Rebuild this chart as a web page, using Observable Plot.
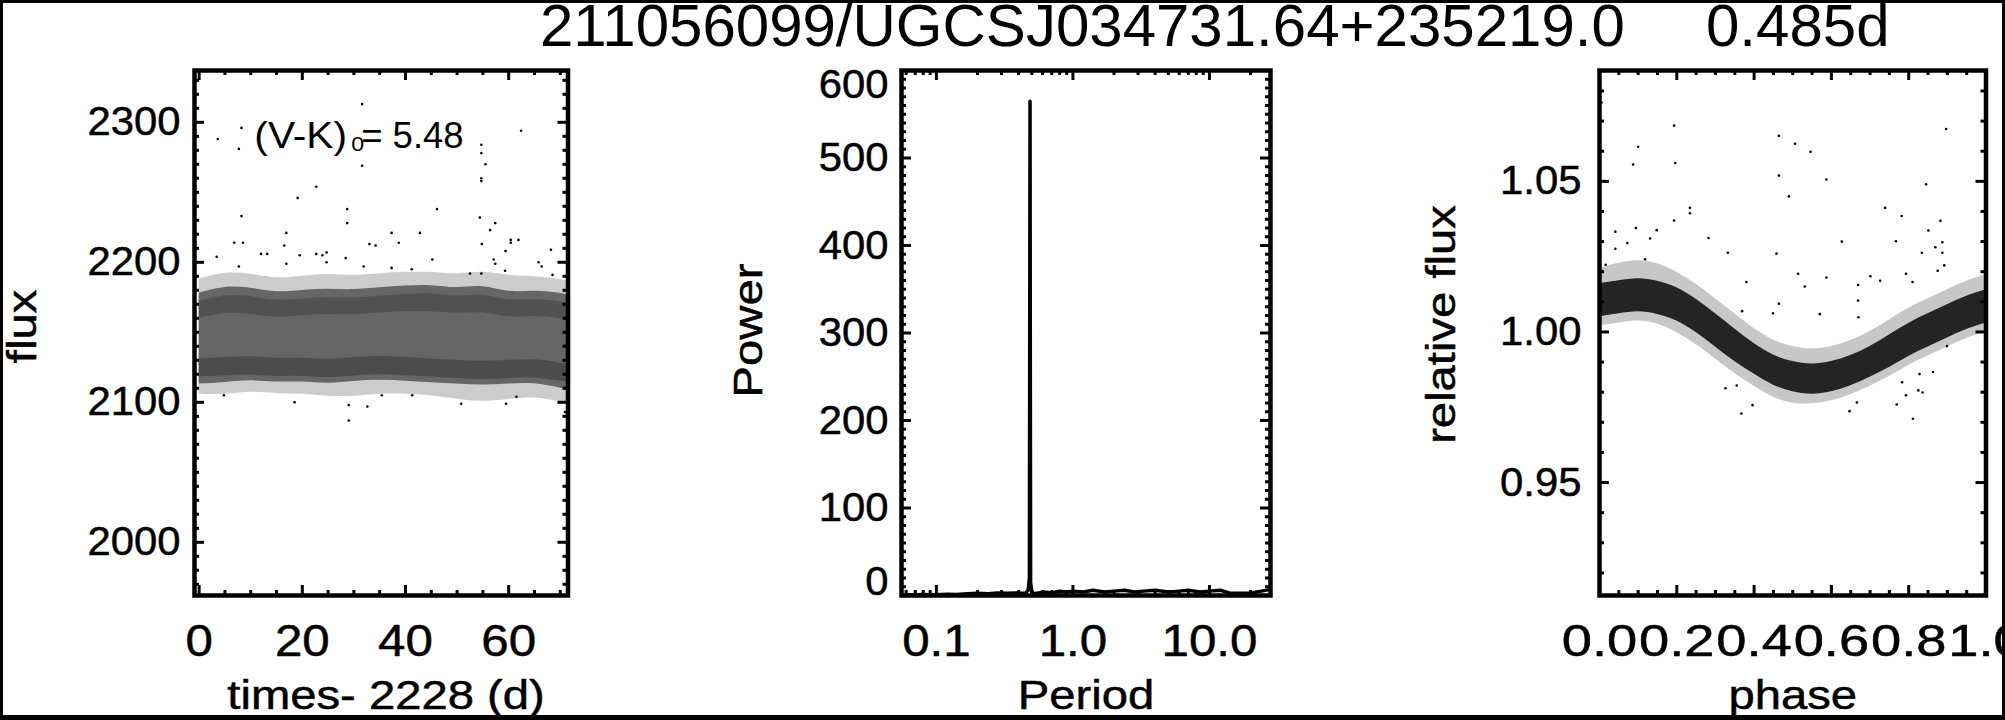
<!DOCTYPE html>
<html><head><meta charset="utf-8">
<script src="https://cdn.jsdelivr.net/npm/d3@7"></script>
<script src="https://cdn.jsdelivr.net/npm/@observablehq/plot@0.6"></script>
<style>
html,body{margin:0;padding:0;background:#fff;}
#wrap{position:relative;width:2005px;height:720px;overflow:hidden;background:#fff;font-family:"Liberation Sans",Arial,sans-serif;}
#border{position:absolute;left:0;top:0;right:0;bottom:0;box-sizing:border-box;border-style:solid;border-color:#000;border-width:3px 3px 5px 3px;pointer-events:none;}
.panel{position:absolute;top:0;}
.ttl{position:absolute;top:0px;font-size:60px;line-height:52px;white-space:pre;color:#000;}
</style></head><body>
<div id="wrap">
  <div class="ttl" id="t1" style="left:540px">211056099/UGCSJ034731.64+235219.0</div>
  <div class="ttl" id="t2" style="left:1706px">0.485d</div>
  <div class="panel" id="p1" style="left:0px"></div>
  <div class="panel" id="p2" style="left:640px"></div>
  <div class="panel" id="p3" style="left:1380px"></div>
  <div id="border"></div>
</div>
<script>
// ---------------- Panel 1: light curve (flux vs time) ----------------
const lcTime   = [0, 5, 10, 15, 20, 25, 30, 35, 40, 45, 50, 55, 60, 65, 70, 72];
const lcCoreLo = [2113, 2114, 2116, 2114, 2115, 2113, 2115, 2116, 2115, 2114, 2113, 2112, 2113, 2114, 2110, 2109];
const lcCoreHi = [2178, 2183, 2182, 2178, 2180, 2181, 2180, 2182, 2183, 2184, 2181, 2184, 2178, 2180, 2178, 2176];
const lcHaloLo = [2106, 2105, 2108, 2106, 2106, 2104, 2104, 2106, 2106, 2105, 2102, 2100, 2102, 2104, 2100, 2100];
const lcHaloHi = [2188, 2193, 2192, 2188, 2190, 2192, 2190, 2192, 2193, 2193, 2191, 2194, 2190, 2190, 2188, 2186];
const lcLowStripeLo  = [2118, 2119, 2120, 2118, 2119, 2117, 2119, 2120, 2119, 2118, 2117, 2116, 2117, 2118, 2115, 2114];
const lcLowStripeHi  = [2131, 2132, 2133, 2131, 2132, 2130, 2132, 2133, 2132, 2131, 2130, 2129, 2130, 2131, 2128, 2127];
const lcHighStripeLo = [2160, 2164, 2163, 2160, 2162, 2163, 2162, 2164, 2165, 2165, 2163, 2165, 2160, 2162, 2160, 2158];
const lcHighStripeHi = [2172, 2177, 2176, 2172, 2174, 2175, 2174, 2176, 2177, 2178, 2175, 2178, 2172, 2174, 2172, 2170];
const lcOutT = [3.6, 8.2, 7.7, 31.6, 31.6, 62.4, 54.7, 54.7, 55.5, 54.7, 54.7, 22.7, 19.1, 8.2, 46.1, 28.7, 28.7, 54.4, 57.4, 56.4, 16.9, 37.3, 42.8, 6.8, 8.5, 16.5, 33.0, 34.2, 38.7, 54.8, 60.4, 60.4, 61.9, 59.4, 3.4, 7.7, 12.0, 13.2, 16.9, 19.5, 22.7, 23.9, 24.7, 24.7, 28.4, 31.9, 37.3, 41.2, 45.2, 57.1, 57.4, 59.3, 65.8, 66.4, 68.2, 68.5, 52.5, 54.7, 29.0, 32.6, 29.0, 18.5, 50.8, 59.5, 70.9, 4.8, 61.5, 35.4, 41.3];
const lcOutF = [2288, 2296, 2281, 2313, 2269, 2294, 2284, 2278, 2270, 2260, 2258, 2254, 2246, 2233, 2238, 2238, 2228, 2232, 2228, 2223, 2221, 2221, 2221, 2214, 2214, 2212, 2213, 2212, 2214, 2213, 2214, 2216, 2216, 2208, 2204, 2197, 2206, 2206, 2199, 2205, 2206, 2205, 2207, 2200, 2203, 2197, 2196, 2195, 2202, 2202, 2199, 2194, 2200, 2197, 2209, 2191, 2192, 2192, 2087, 2097, 2098, 2100, 2099, 2099, 2093, 2105, 2104, 2105, 2105];
const lcXTicks = [0, 20, 40, 60];
const lcXTickLabels = ["0", "20", "40", "60"];
const lcYTicks = [2000, 2100, 2200, 2300];
const lcYTickLabels = ["2000", "2100", "2200", "2300"];
const lcXDomain = [-0.9, 71.5];
const lcYDomain = [1962, 2337];
const lcAnnotation = {pre: "(V-K)", sub: "0", post: "= 5.48"};

// ---------------- Panel 2: periodogram ----------------
const pgPeriod = [0.056, 0.06, 0.07, 0.08, 0.09, 0.1, 0.12, 0.14, 0.17, 0.2, 0.24, 0.28, 0.33, 0.38, 0.42, 0.45, 0.47, 0.48, 0.483, 0.485, 0.487, 0.49, 0.5, 0.52, 0.56, 0.62, 0.7, 0.8, 0.9, 1.0, 1.2, 1.4, 1.7, 2.0, 2.4, 2.8, 3.3, 4, 5, 6, 7, 8.5, 10, 12, 14, 17, 20, 24, 28];
const pgPower  = [1, 0.8, 1, 1.2, 0.8, 1, 1.5, 1.2, 2, 2.5, 2, 3, 2.5, 3, 2.5, 3, 6, 20, 360, 565, 300, 15, 4, 2, 3, 4, 3, 5, 4, 5, 4, 6, 4, 5, 6, 4, 5, 6, 4, 5, 6, 4, 5, 6, 3, 2.5, 3, 5, 7];
const pgXTicks = [0.1, 1, 10];
const pgXTickLabels = ["0.1", "1.0", "10.0"];
const pgYTicks = [0, 100, 200, 300, 400, 500, 600];
const pgYTickLabels = ["0", "100", "200", "300", "400", "500", "600"];
const pgXDomain = [0.0555, 28];
const pgYDomain = [0, 600];

// ---------------- Panel 3: phased light curve ----------------
const phPhase  = [0, 0.05, 0.1, 0.15, 0.2, 0.25, 0.3, 0.35, 0.4, 0.45, 0.5, 0.55, 0.6, 0.65, 0.7, 0.75, 0.8, 0.85, 0.9, 0.95, 1.0];
const phCoreLo = [1.005, 1.006, 1.007, 1.006, 1.004, 1.000, 0.995, 0.990, 0.986, 0.982, 0.980, 0.979, 0.980, 0.982, 0.985, 0.988, 0.992, 0.995, 0.998, 1.001, 1.003];
const phCoreHi = [1.016, 1.017, 1.018, 1.017, 1.015, 1.011, 1.006, 1.001, 0.996, 0.992, 0.990, 0.989, 0.990, 0.992, 0.995, 0.999, 1.003, 1.006, 1.009, 1.012, 1.014];
const phHaloLo = [1.002, 1.003, 1.004, 1.003, 1.000, 0.996, 0.991, 0.986, 0.982, 0.978, 0.976, 0.976, 0.977, 0.979, 0.982, 0.985, 0.989, 0.992, 0.995, 0.998, 1.000];
const phHaloHi = [1.021, 1.023, 1.024, 1.023, 1.020, 1.016, 1.011, 1.006, 1.001, 0.997, 0.995, 0.994, 0.995, 0.997, 1.000, 1.004, 1.008, 1.011, 1.014, 1.017, 1.019];
const phOutP = [0.005, 0.193, 0.100, 0.087, 0.196, 0.464, 0.506, 0.546, 0.464, 0.587, 0.490, 0.897, 0.845, 0.739, 0.782, 0.882, 0.851, 0.869, 0.887, 0.887, 0.834, 0.892, 0.875, 0.234, 0.234, 0.193, 0.094, 0.041, 0.148, 0.282, 0.332, 0.458, 0.627, 0.514, 0.587, 0.531, 0.380, 0.464, 0.449, 0.369, 0.570, 0.669, 0.669, 0.670, 0.701, 0.726, 0.767, 0.793, 0.810, 0.367, 0.396, 0.326, 0.355, 0.647, 0.666, 0.769, 0.783, 0.793, 0.811, 0.828, 0.863, 0.825, 0.836, 0.899, 0.016, 0.041, 0.072, 0.131, 0.118];
const phOutV = [1.0762, 1.0685, 1.0615, 1.0556, 1.0561, 1.0651, 1.0625, 1.0598, 1.0519, 1.0506, 1.0450, 1.0674, 1.0490, 1.0412, 1.0385, 1.0369, 1.0337, 1.0281, 1.0298, 1.0263, 1.0263, 1.0221, 1.0203, 1.0412, 1.0394, 1.0370, 1.0345, 1.0333, 1.0338, 1.0312, 1.0263, 1.0260, 1.0300, 1.0193, 1.0181, 1.0151, 1.0166, 1.0094, 1.0062, 1.0069, 1.0059, 1.0156, 1.0104, 1.0049, 1.0185, 1.0170, 1.0301, 1.0193, 1.0166, 0.9729, 0.9757, 0.9813, 0.9822, 0.9737, 0.9766, 0.9759, 0.9833, 0.9790, 0.9712, 0.9860, 0.9867, 0.9806, 0.9799, 0.9953, 1.0223, 1.0276, 1.0295, 1.0310, 1.0241];
const phXTicks = [0, 0.2, 0.4, 0.6, 0.8, 1.0];
const phXTickLabels = ["0.0", "0.2", "0.4", "0.6", "0.8", "1.0"];
const phYTicks = [0.95, 1.00, 1.05];
const phYTickLabels = ["0.95", "1.00", "1.05"];
const phXDomain = [0, 1];
const phYDomain = [0.9125, 1.0868];

// ---------------- helpers ----------------
const FONT = '"Liberation Sans", Arial, Helvetica, sans-serif';
const YTICK_FS = 41, XTICK_FS = 44, PHASE_FS = 44.5, LABEL_FS = 40;
// horizontal glyph stretch per font size (the original's fonts are wider than Helvetica)
const STRETCH = {"41": 1.02, "44": 1.12, "44.5": 1.22, "40": 1.18, "37": 1.1, "36.5": 1.0, "21": 1.1};
const MAJ = 10, MIN = 5;
const TXT = {fill: "#000", stroke: "#000", strokeWidth: 0.5};

function tickMarks(xMaj, xMin, yMaj, yMin, fw, fh) {
  const m = [];
  const w = 3;
  for (const [vals, len] of [[xMaj, MAJ], [xMin, MIN]]) {
    m.push(Plot.ruleX(vals, {x: d => d, insetTop: fh - len, stroke: "#000", strokeWidth: w}));
    m.push(Plot.ruleX(vals, {x: d => d, insetBottom: fh - len, stroke: "#000", strokeWidth: w}));
  }
  for (const [vals, len] of [[yMaj, MAJ], [yMin, MIN]]) {
    m.push(Plot.ruleY(vals, {y: d => d, insetRight: fw - len, stroke: "#000", strokeWidth: w}));
    m.push(Plot.ruleY(vals, {y: d => d, insetLeft: fw - len, stroke: "#000", strokeWidth: w}));
  }
  return m;
}
function xLabels(xT, xL, fs = XTICK_FS) {
  return Plot.text(xT, {x: d => d, text: (d, i) => xL[i], frameAnchor: "bottom", lineAnchor: "middle", textAnchor: "middle", dy: 46, fontSize: fs, ...TXT});
}
function yLabels(yT, yL, dx, dy = 0) {
  return Plot.text(yT, {y: d => d, text: (d, i) => yL[i], frameAnchor: "left", lineAnchor: "middle", dx, dy, textAnchor: "end", fontSize: YTICK_FS, ...TXT});
}
function axisTitles(xTitle, yTitle, xDx, yDx, yDy) {
  return [
    Plot.text([xTitle], {text: d => d, frameAnchor: "bottom", lineAnchor: "middle", textAnchor: "middle", dx: xDx, dy: 100.5, fontSize: LABEL_FS, ...TXT}),
    Plot.text([yTitle], {text: d => d, frameAnchor: "left", lineAnchor: "middle", textAnchor: "middle", rotate: -90, dx: yDx, dy: yDy, fontSize: LABEL_FS, ...TXT})
  ];
}
function mount(id, svg) {
  document.getElementById(id).appendChild(svg);
  svg.querySelectorAll("g[font-size]").forEach(g => {
    const f = STRETCH[g.getAttribute("font-size")];
    if (!f || f === 1) return;
    g.querySelectorAll("text").forEach(t => {
      const L = t.getComputedTextLength();
      if (L > 0) {
        t.setAttribute("textLength", (L * f).toFixed(2));
        t.setAttribute("lengthAdjust", "spacingAndGlyphs");
      }
    });
  });
}
const baseStyle = {fontFamily: FONT, background: "transparent", overflow: "visible", maxWidth: "none", color: "#000"};

// ---------- Panel 1 ----------
{
  const W = 620, H = 720, ml = 194, mr = W - 567.5, mt = 70, mb = H - 595;
  const fw = W - ml - mr, fh = H - mt - mb;
  const band = lcTime.map((t, i) => ({t, lo: lcCoreLo[i], hi: lcCoreHi[i], hlo: lcHaloLo[i], hhi: lcHaloHi[i],
    s1: lcLowStripeLo[i], s2: lcLowStripeHi[i], s3: lcHighStripeLo[i], s4: lcHighStripeHi[i]}));
  const outs = lcOutT.map((t, i) => ({t, f: lcOutF[i]}));
  const svg = Plot.plot({
    width: W, height: H, marginLeft: ml, marginRight: mr, marginTop: mt, marginBottom: mb,
    style: baseStyle,
    x: {domain: lcXDomain, axis: null},
    y: {domain: lcYDomain, axis: null},
    marks: [
      Plot.areaY(band, {x: "t", y1: "hlo", y2: "hhi", fill: "#000", fillOpacity: 0.2, curve: "basis"}),
      Plot.areaY(band, {x: "t", y1: "lo", y2: "hi", fill: "#000", fillOpacity: 0.5, curve: "basis"}),
      Plot.areaY(band, {x: "t", y1: "s1", y2: "s2", fill: "#000", fillOpacity: 0.25, curve: "basis"}),
      Plot.areaY(band, {x: "t", y1: "s3", y2: "s4", fill: "#000", fillOpacity: 0.2, curve: "basis"}),
      Plot.dot(outs, {x: "t", y: "f", r: 1.3, fill: "#000", stroke: "none"}),
      ...tickMarks(lcXTicks, d3.range(5, 71, 5).filter(v => v % 20), lcYTicks, d3.range(1970, 2331, 10).filter(v => v % 100), fw, fh),
      Plot.frame({stroke: "#000", strokeWidth: 4.5}),
      xLabels(lcXTicks, lcXTickLabels),
      yLabels(lcYTicks, lcYTickLabels, -14),
      ...axisTitles("times- 2228 (d)", "flux", 4.75, -171, -6.5),
      Plot.text([lcAnnotation.pre], {x: [10.7], y: [2290.3], text: d => d, textAnchor: "start", lineAnchor: "middle", fontSize: 37, fill: "#000"}),
      Plot.text([lcAnnotation.sub], {x: [29.5], y: [2284.3], text: d => d, textAnchor: "start", lineAnchor: "middle", fontSize: 21, fill: "#000"}),
      Plot.text([lcAnnotation.post], {x: [31.4], y: [2290.3], text: d => d, textAnchor: "start", lineAnchor: "middle", fontSize: 36.5, fill: "#000"})
    ]
  });
  mount("p1", svg);
}

// ---------- Panel 2 ----------
{
  const W = 660, H = 720, ml = 261, mr = W - (1270 - 640), mt = 70, mb = H - 595;
  const fw = W - ml - mr, fh = H - mt - mb;
  const pg = pgPeriod.map((p, i) => ({p, pw: pgPower[i]}));
  const minorX = [0.06, 0.07, 0.08, 0.09, 0.2, 0.3, 0.4, 0.5, 0.6, 0.7, 0.8, 0.9, 2, 3, 4, 5, 6, 7, 8, 9, 20];
  const n = pgYTicks.length;
  const svg = Plot.plot({
    width: W, height: H, marginLeft: ml, marginRight: mr, marginTop: mt, marginBottom: mb,
    style: baseStyle,
    x: {type: "log", domain: pgXDomain, axis: null},
    y: {domain: pgYDomain, axis: null},
    marks: [
      Plot.line(pg, {x: "p", y: "pw", stroke: "#000", strokeWidth: 3.5}),
      ...tickMarks(pgXTicks, minorX, pgYTicks, d3.range(10, 600, 10).filter(v => v % 100), fw, fh),
      Plot.frame({stroke: "#000", strokeWidth: 4.5}),
      xLabels(pgXTicks, pgXTickLabels),
      yLabels(pgYTicks.slice(1, n - 1), pgYTickLabels.slice(1, n - 1), -13),
      yLabels(pgYTicks.slice(0, 1), pgYTickLabels.slice(0, 1), -13, -14),
      yLabels(pgYTicks.slice(n - 1), pgYTickLabels.slice(n - 1), -13, 14),
      ...axisTitles("Period", "Power", 0, -152, -2.5)
    ]
  });
  mount("p2", svg);
}

// ---------- Panel 3 ----------
{
  const W = 625, H = 720, ml = 1599 - 1380, mr = 2005 - 1985.5, mt = 70, mb = H - 595;
  const fw = W - ml - mr, fh = H - mt - mb;
  const band = phPhase.map((p, i) => ({p, lo: phCoreLo[i], hi: phCoreHi[i], hlo: phHaloLo[i], hhi: phHaloHi[i]}));
  const outs = phOutP.map((p, i) => ({p, v: phOutV[i]}));
  const svg = Plot.plot({
    width: W, height: H, marginLeft: ml, marginRight: mr, marginTop: mt, marginBottom: mb,
    style: baseStyle,
    x: {domain: phXDomain, axis: null},
    y: {domain: phYDomain, axis: null},
    marks: [
      Plot.areaY(band, {x: "p", y1: "hlo", y2: "hhi", fill: "#000", fillOpacity: 0.22, curve: "basis"}),
      Plot.areaY(band, {x: "p", y1: "lo", y2: "hi", fill: "#000", fillOpacity: 0.82, curve: "basis"}),
      Plot.dot(outs, {x: "p", y: "v", r: 1.3, fill: "#000", stroke: "none"}),
      ...tickMarks(phXTicks, [0.05, 0.1, 0.15, 0.25, 0.3, 0.35, 0.45, 0.5, 0.55, 0.65, 0.7, 0.75, 0.85, 0.9, 0.95], phYTicks, [0.92, 0.93, 0.94, 0.96, 0.97, 0.98, 0.99, 1.01, 1.02, 1.03, 1.04, 1.06, 1.07, 1.08], fw, fh),
      Plot.frame({stroke: "#000", strokeWidth: 4.5}),
      xLabels(phXTicks, phXTickLabels, PHASE_FS),
      yLabels(phYTicks, phYTickLabels, -18),
      ...axisTitles("phase", "relative flux", 0, -157, -8.5)
    ]
  });
  mount("p3", svg);
}
</script>
</body></html>
